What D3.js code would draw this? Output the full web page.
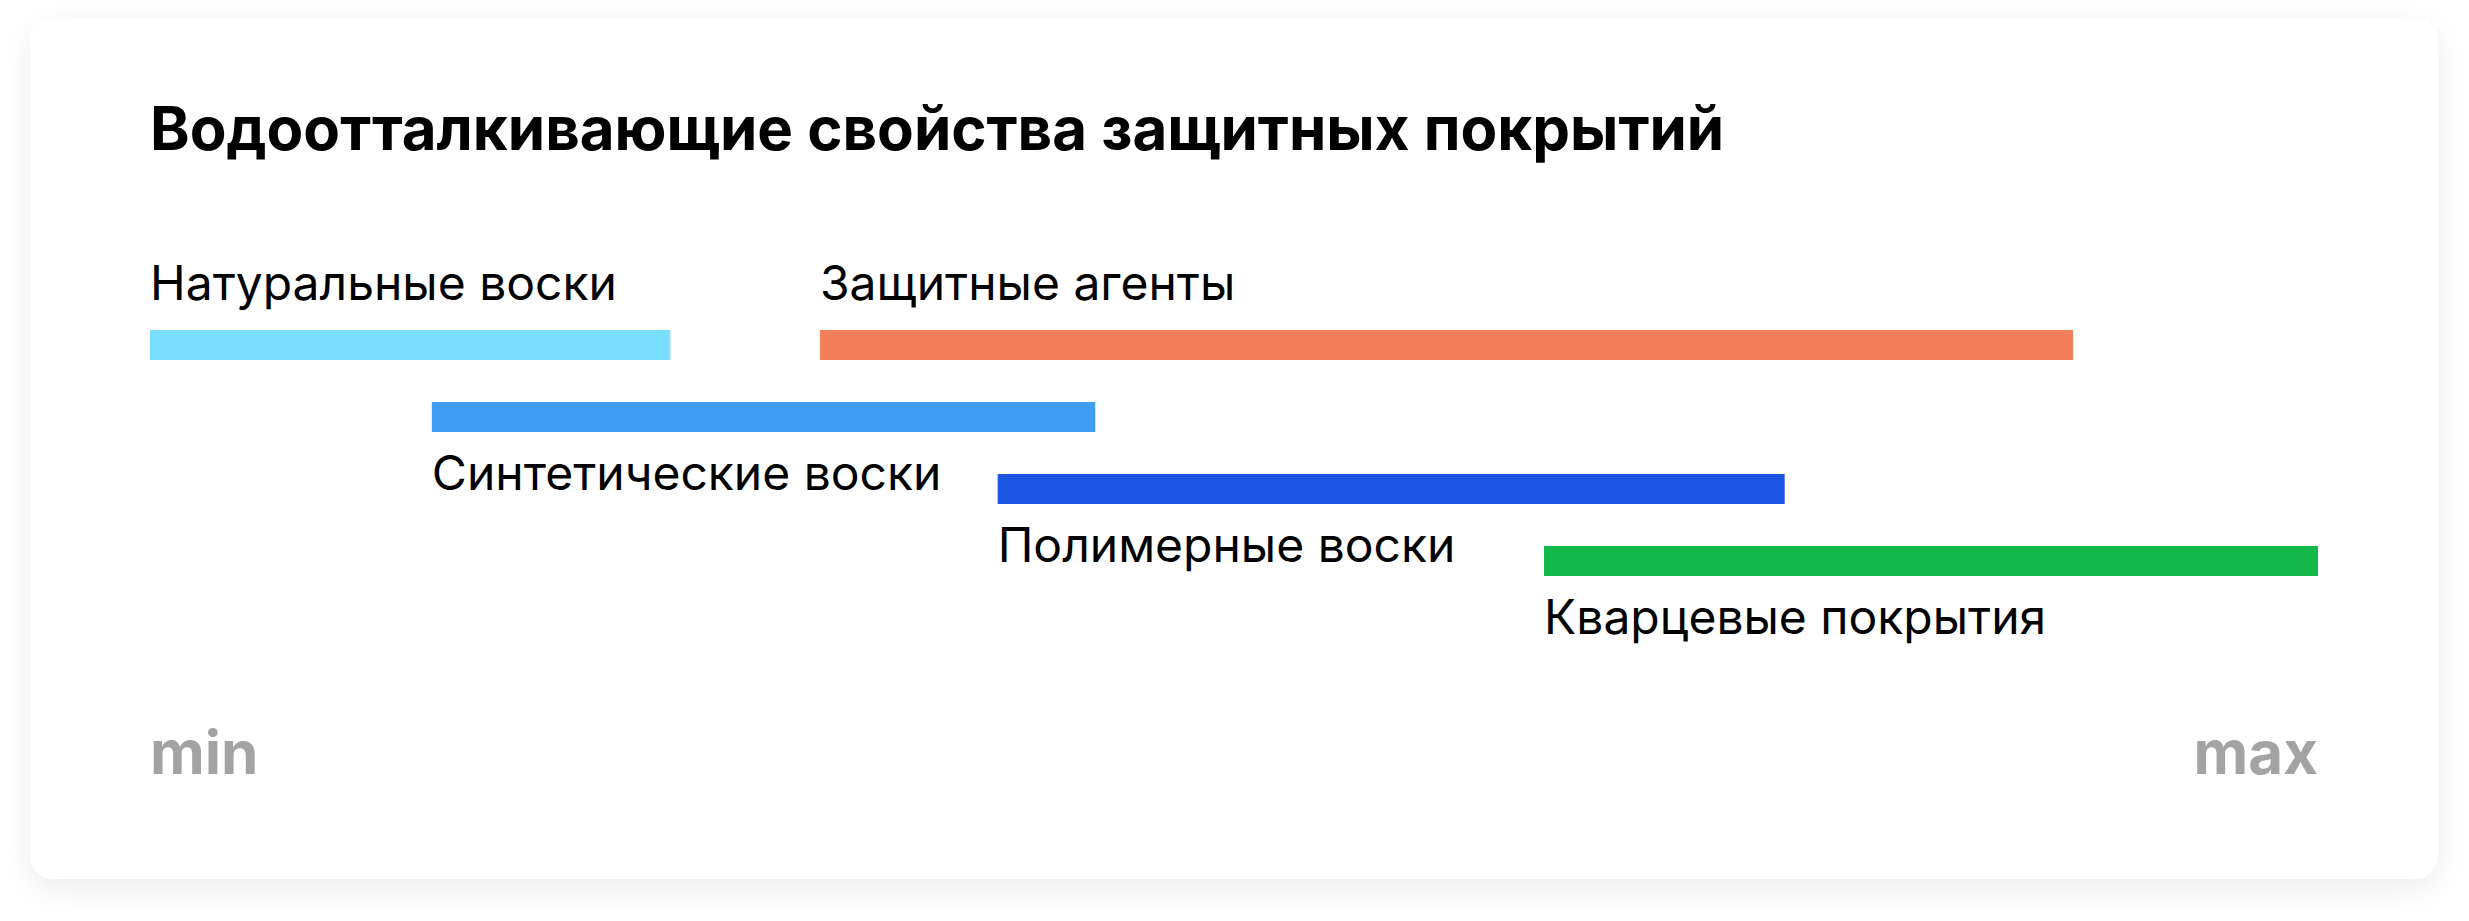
<!DOCTYPE html>
<html>
<head>
<meta charset="utf-8">
<script src="https://cdn.jsdelivr.net/npm/d3@7"></script>
<style>
  html, body { margin: 0; padding: 0; background: #ffffff; }
  svg { display: block; }
  text { font-family: Inter, "Noto Sans", sans-serif; }
</style>
</head>
<body>
<svg id="chart" width="2469" height="921"></svg>
<script>
const title = "Водоотталкивающие свойства защитных покрытий";
const categories = ["Натуральные воски", "Защитные агенты", "Синтетические воски", "Полимерные воски", "Кварцевые покрытия"];
const rangeStart = [0, 30.9, 13, 39.1, 64.3];
const rangeEnd = [24, 88.7, 43.6, 75.4, 100];
const rows = [0, 0, 1, 2, 3];
const colors = ["#7ADFFE", "#F47F5B", "#3F9DF3", "#1B55E2", "#13BA4B"];
const axisLabels = ["min", "max"];
const axisDomain = [0, 100];

const svg = d3.select("#chart");

const defs = svg.append("defs");
const f = defs.append("filter").attr("id", "shadow")
  .attr("x", "-5%").attr("y", "-10%").attr("width", "110%").attr("height", "125%");
f.append("feDropShadow").attr("dx", 0).attr("dy", 10).attr("stdDeviation", 16)
  .attr("flood-color", "#000").attr("flood-opacity", 0.07);

svg.append("rect")
  .attr("x", 30).attr("y", 17).attr("width", 2408).attr("height", 862)
  .attr("rx", 24).attr("ry", 24)
  .attr("fill", "#ffffff").attr("filter", "url(#shadow)");

const x = d3.scaleLinear().domain(axisDomain).range([150, 2318]);
const y = d3.scalePoint().domain([0, 1, 2, 3]).range([330, 546]);
const barH = 30;

svg.append("text")
  .attr("x", 150).attr("y", 150)
  .attr("font-size", 60).attr("font-weight", 700)
  .attr("fill", "#000")
  .text(title);

const data = categories.map((c, i) => ({ c, s: rangeStart[i], e: rangeEnd[i], r: rows[i], col: colors[i] }));

svg.selectAll("rect.bar").data(data).enter().append("rect")
  .attr("class", "bar")
  .attr("x", d => x(d.s))
  .attr("y", d => y(d.r))
  .attr("width", d => x(d.e) - x(d.s))
  .attr("height", barH)
  .attr("fill", d => d.col);

svg.selectAll("text.lbl").data(data).enter().append("text")
  .attr("class", "lbl")
  .attr("x", d => x(d.s))
  .attr("y", d => d.r === 0 ? y(d.r) - 30 : y(d.r) + barH + 58)
  .attr("font-size", 48).attr("font-weight", 400)
  .attr("fill", "#000")
  .text(d => d.c);

svg.selectAll("text.ax").data(axisLabels).enter().append("text")
  .attr("class", "ax")
  .attr("x", (d, i) => x(axisDomain[i]))
  .attr("y", 774)
  .attr("text-anchor", (d, i) => i === 0 ? "start" : "end")
  .attr("font-size", 60).attr("font-weight", 700)
  .attr("fill", "#A3A3A3")
  .text(d => d);
</script>
</body>
</html>
